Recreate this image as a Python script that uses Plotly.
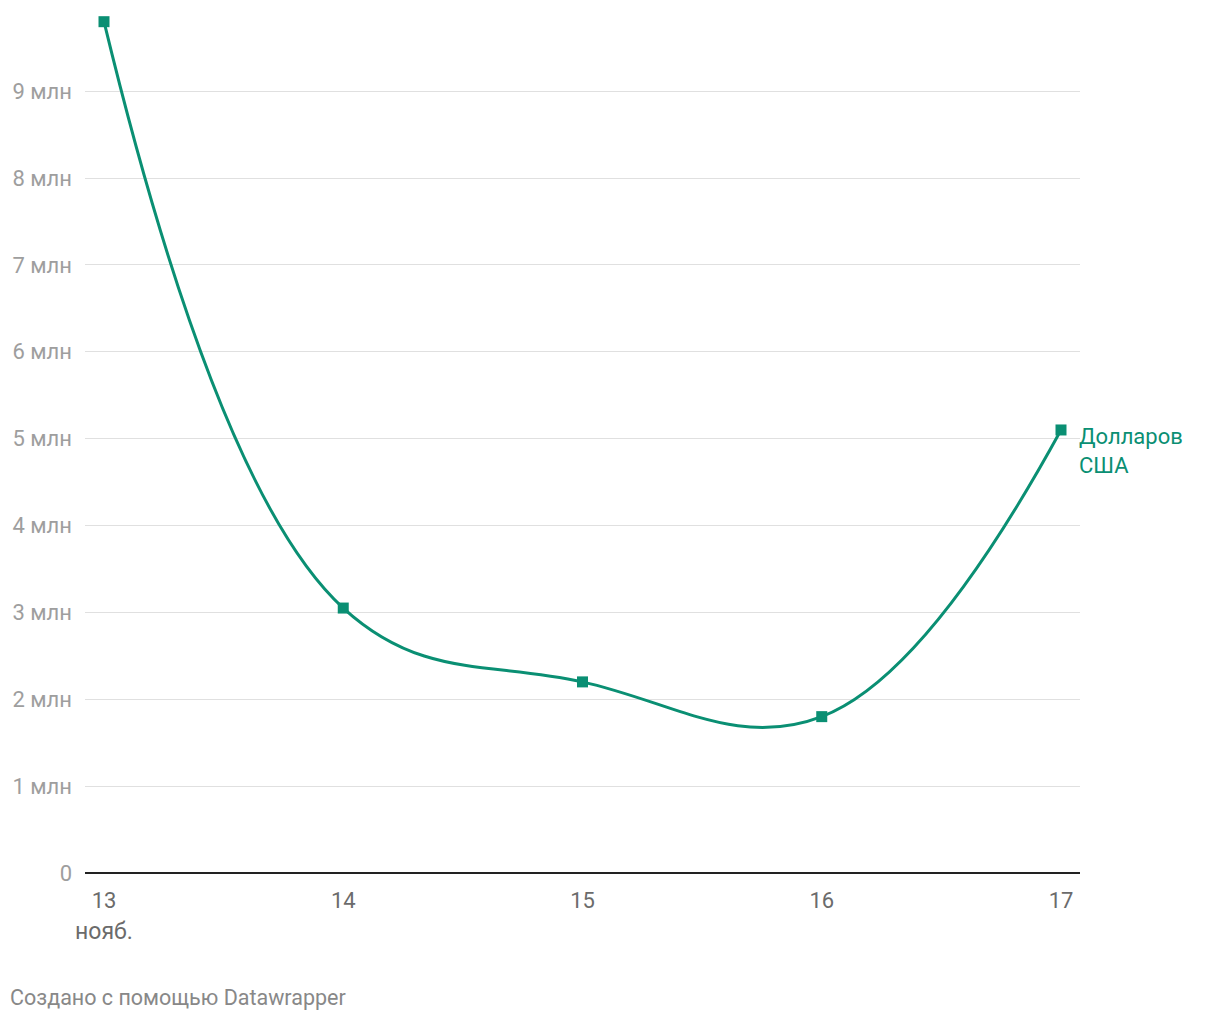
import plotly.graph_objects as go

days = [13, 14, 15, 16, 17]
values_mln = [9.8, 3.05, 2.2, 1.8, 5.1]
series_label = "Долларов<br>США"
y_ticks = [0, 1, 2, 3, 4, 5, 6, 7, 8, 9]
y_tick_text = ["0"] + [f"{v} млн" for v in y_ticks[1:]]
x_tick_text = ["13", "14", "15", "16", "17"]
month_label = "нояб."
footer = "Создано с помощью Datawrapper"

GREEN = "#0a8f73"
FONT = "Roboto, Arial, sans-serif"

fig = go.Figure()
fig.add_trace(go.Scatter(
    x=days, y=values_mln, mode="lines+markers",
    line=dict(color=GREEN, width=3, shape="spline", smoothing=1.15),
    marker=dict(symbol="square", size=11, color=GREEN),
    hoverinfo="skip", showlegend=False, cliponaxis=False,
))

fig.add_annotation(x=days[-1], y=values_mln[-1], xref="x", yref="y",
                   text=series_label, showarrow=False, xanchor="left", yanchor="top",
                   xshift=16, yshift=8, align="left",
                   font=dict(family=FONT, size=22, color=GREEN))
fig.add_annotation(x=days[0], y=0, xref="x", yref="y", text=month_label,
                   showarrow=False, xanchor="center", yanchor="middle", yshift=-58,
                   font=dict(family=FONT, size=23, color="#6b6b6b"))
fig.add_annotation(x=0, y=0, xref="paper", yref="paper", text=footer,
                   showarrow=False, xanchor="left", yanchor="middle",
                   xshift=-77, yshift=-124,
                   font=dict(family=FONT, size=21.5, color="#888888"))

fig.update_layout(
    width=1220, height=1020,
    margin=dict(l=85, r=140, t=13, b=147),
    plot_bgcolor="white", paper_bgcolor="white",
    font=dict(family=FONT),
    xaxis=dict(range=[13 - 19/239.25, 17 + 19/239.25], tickvals=days, ticktext=x_tick_text,
               showgrid=False, zeroline=False, showline=False,
               ticks="", ticklabelstandoff=12,
               tickfont=dict(family=FONT, size=22, color="#6b6b6b")),
    yaxis=dict(range=[0, 9.9], tickvals=y_ticks, ticktext=y_tick_text,
               showgrid=True, gridcolor="#e0e0e0", gridwidth=1,
               zeroline=True, zerolinecolor="#222222", zerolinewidth=2,
               showline=False, ticks="", ticklabelstandoff=12,
               tickfont=dict(family=FONT, size=22, color="#9e9e9e")),
)
fig.write_html("out.html")
